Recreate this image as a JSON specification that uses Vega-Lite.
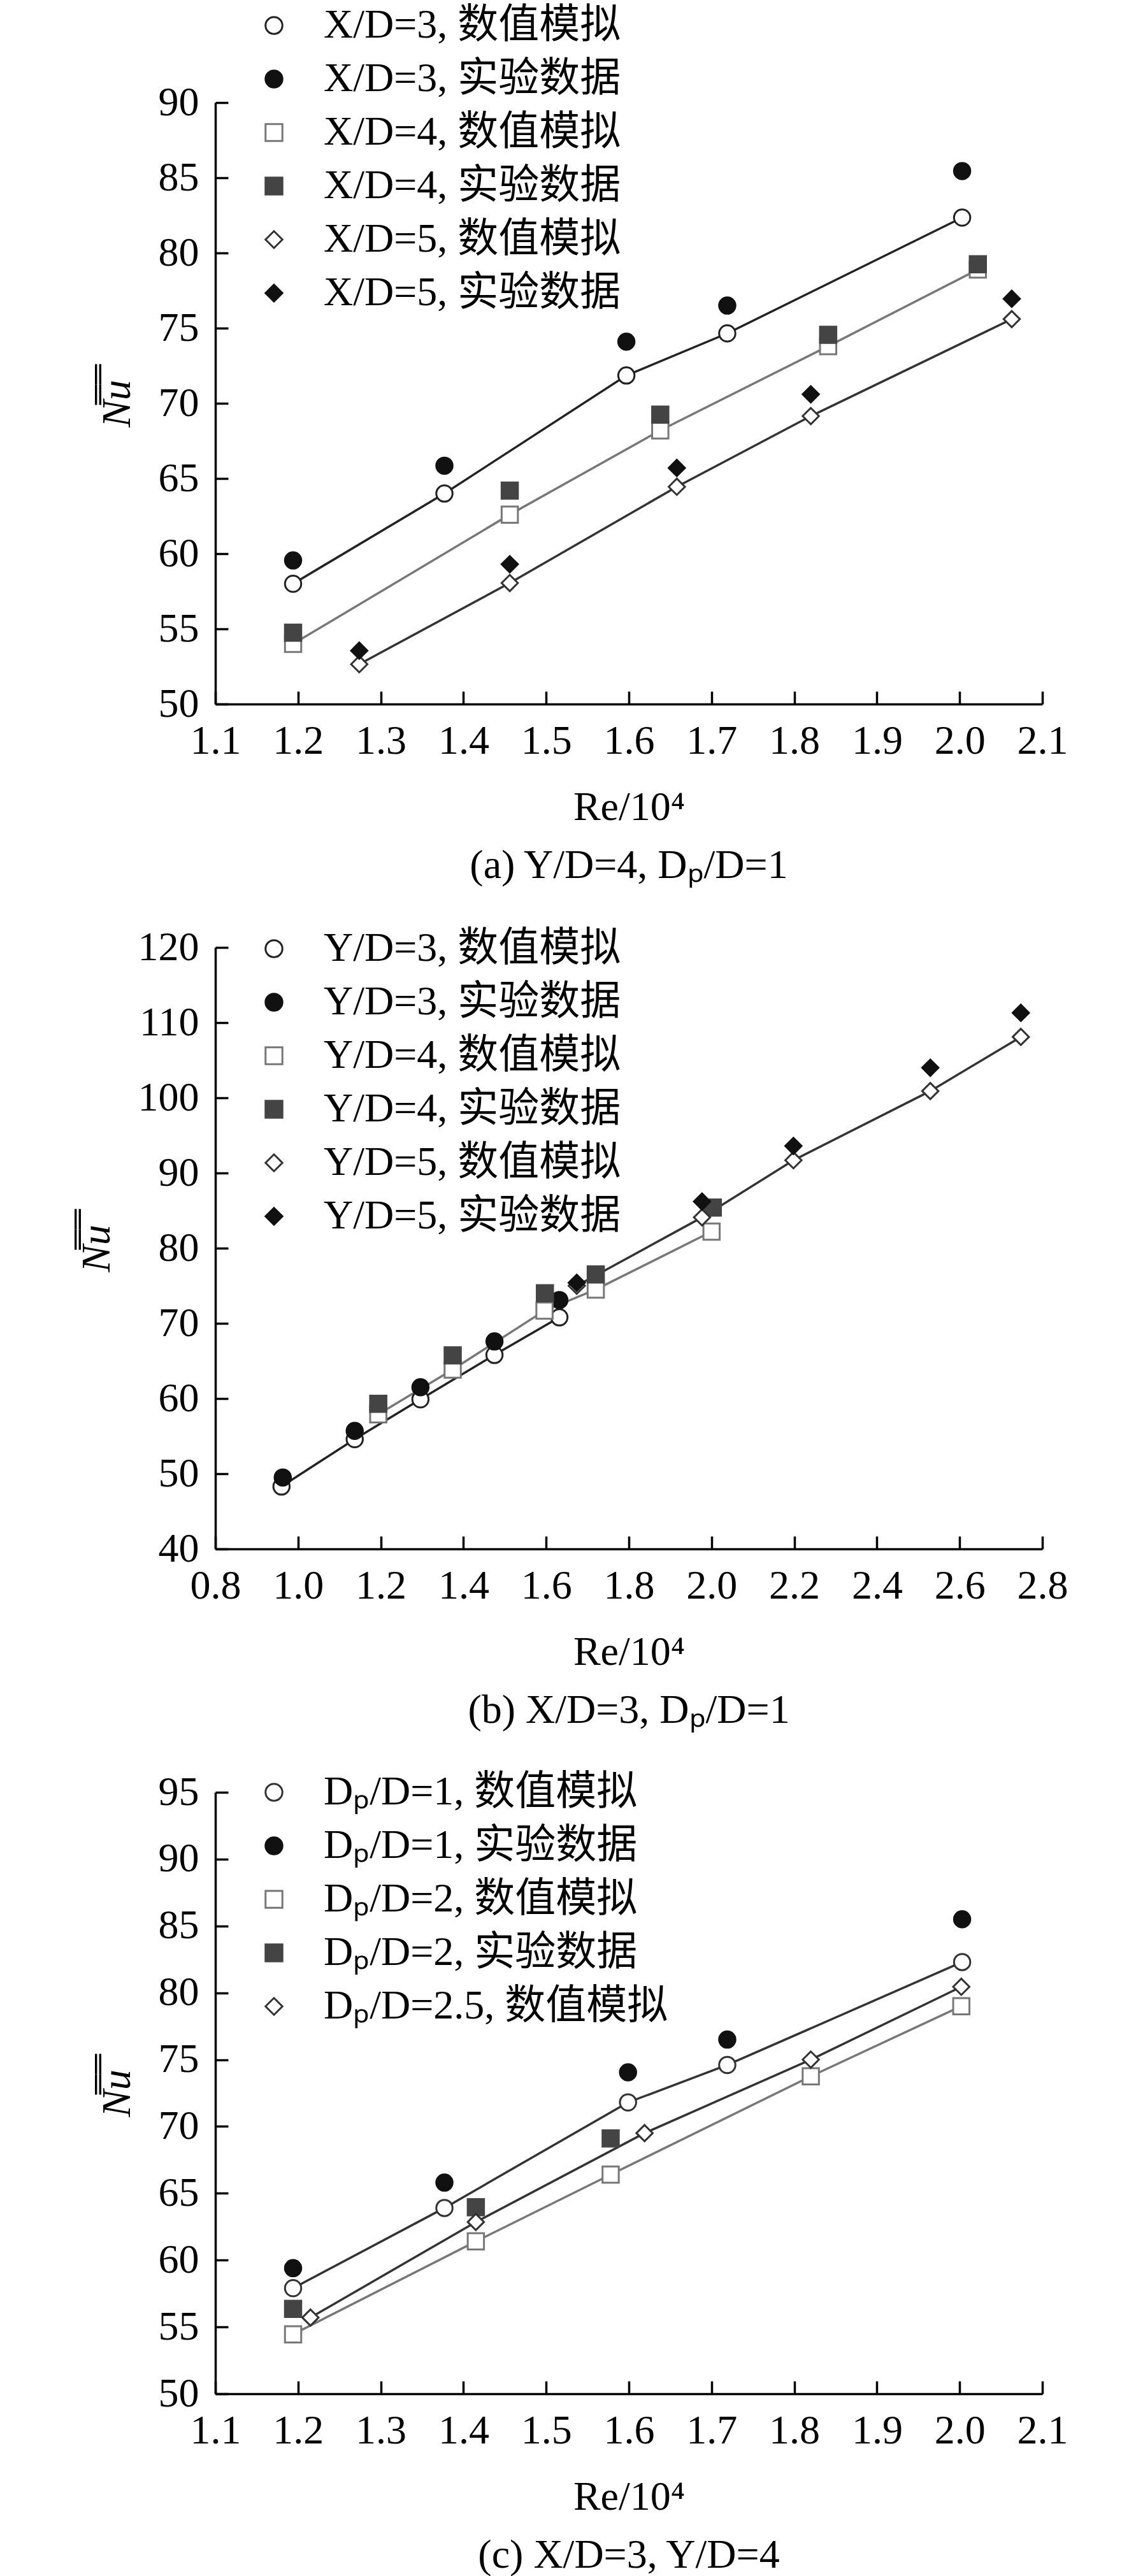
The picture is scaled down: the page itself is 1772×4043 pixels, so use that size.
{
  "$schema": "https://vega.github.io/schema/vega-lite/v6.json",
  "background": "white",
  "padding": {"left": 120, "top": 8, "right": 20, "bottom": 10},
  "spacing": 382,
  "bounds": "flush",
  "config": {
    "view": {"stroke": null},
    "font": "Liberation Serif",
    "axis": {
      "domainColor": "black", "domainWidth": 3.5, "tickColor": "black", "tickWidth": 3.5, "tickSize": -20,
      "labelFont": "Liberation Serif", "labelFontSize": 64, "labelColor": "black", "labelPadding": 46,
      "labelFlush": false, "labelOverlap": false, "grid": false,
      "titleFont": "Liberation Serif", "titleFontSize": 64, "titleFontWeight": "normal", "titleColor": "black"
    },
    "axisY": {"titleFontStyle": "italic", "titlePadding": 32},
    "axisX": {"titlePadding": 40},
    "title": {"font": "Liberation Serif, Noto Sans CJK SC", "fontSize": 64, "fontWeight": "normal", "color": "black", "orient": "bottom", "anchor": "middle", "offset": 28},
    "legend": {
      "orient": "none", "legendX": 60, "symbolSize": 700, "symbolStrokeWidth": 3, "symbolOpacity": 1,
      "labelFont": "Liberation Serif, Noto Sans CJK SC", "labelFontSize": 64, "labelColor": "black", "labelOffset": 46,
      "labelLimit": 1500, "rowPadding": 20
    }
  },
  "resolve": {
    "scale": {"x": "independent", "y": "independent", "shape": "independent", "fill": "independent", "stroke": "independent"},
    "legend": {"shape": "independent", "fill": "independent", "stroke": "independent"}
  },
  "vconcat": [
    {
      "width": 1298, "height": 944,
      "title": {"text": "(a) Y/D=4, Dₚ/D=1"},
      "data": {"values": [
        {"series": "X/D=3, 数值模拟", "kind": "sim", "re": 1.194, "nu": 58.0},
        {"series": "X/D=3, 数值模拟", "kind": "sim", "re": 1.377, "nu": 64.0},
        {"series": "X/D=3, 数值模拟", "kind": "sim", "re": 1.597, "nu": 71.85},
        {"series": "X/D=3, 数值模拟", "kind": "sim", "re": 1.719, "nu": 74.65},
        {"series": "X/D=3, 数值模拟", "kind": "sim", "re": 2.003, "nu": 82.35},
        {"series": "X/D=3, 实验数据", "kind": "exp", "re": 1.194, "nu": 59.55},
        {"series": "X/D=3, 实验数据", "kind": "exp", "re": 1.377, "nu": 65.85},
        {"series": "X/D=3, 实验数据", "kind": "exp", "re": 1.597, "nu": 74.1},
        {"series": "X/D=3, 实验数据", "kind": "exp", "re": 1.719, "nu": 76.5},
        {"series": "X/D=3, 实验数据", "kind": "exp", "re": 2.003, "nu": 85.45},
        {"series": "X/D=4, 数值模拟", "kind": "sim", "re": 1.194, "nu": 54.0},
        {"series": "X/D=4, 数值模拟", "kind": "sim", "re": 1.456, "nu": 62.6},
        {"series": "X/D=4, 数值模拟", "kind": "sim", "re": 1.638, "nu": 68.2},
        {"series": "X/D=4, 数值模拟", "kind": "sim", "re": 1.841, "nu": 73.8},
        {"series": "X/D=4, 数值模拟", "kind": "sim", "re": 2.022, "nu": 78.9},
        {"series": "X/D=4, 实验数据", "kind": "exp", "re": 1.194, "nu": 54.75},
        {"series": "X/D=4, 实验数据", "kind": "exp", "re": 1.456, "nu": 64.2},
        {"series": "X/D=4, 实验数据", "kind": "exp", "re": 1.638, "nu": 69.25},
        {"series": "X/D=4, 实验数据", "kind": "exp", "re": 1.841, "nu": 74.55},
        {"series": "X/D=4, 实验数据", "kind": "exp", "re": 2.022, "nu": 79.25},
        {"series": "X/D=5, 数值模拟", "kind": "sim", "re": 1.274, "nu": 52.65},
        {"series": "X/D=5, 数值模拟", "kind": "sim", "re": 1.456, "nu": 58.05},
        {"series": "X/D=5, 数值模拟", "kind": "sim", "re": 1.658, "nu": 64.45},
        {"series": "X/D=5, 数值模拟", "kind": "sim", "re": 1.82, "nu": 69.15},
        {"series": "X/D=5, 数值模拟", "kind": "sim", "re": 2.063, "nu": 75.6},
        {"series": "X/D=5, 实验数据", "kind": "exp", "re": 1.274, "nu": 53.55},
        {"series": "X/D=5, 实验数据", "kind": "exp", "re": 1.456, "nu": 59.3},
        {"series": "X/D=5, 实验数据", "kind": "exp", "re": 1.658, "nu": 65.7},
        {"series": "X/D=5, 实验数据", "kind": "exp", "re": 1.82, "nu": 70.6},
        {"series": "X/D=5, 实验数据", "kind": "exp", "re": 2.063, "nu": 76.95}
      ]},
      "encoding": {
        "x": {"field": "re", "type": "quantitative", "title": "Re/10⁴", "scale": {"domain": [1.1, 2.1], "nice": false, "zero": false}, "axis": {"values": [1.1, 1.2, 1.3, 1.4, 1.5, 1.6, 1.7, 1.8, 1.9, 2.0, 2.1], "format": ".1f"}},
        "y": {"field": "nu", "type": "quantitative", "title": "N̿u̿", "scale": {"domain": [50, 90], "nice": false, "zero": false}, "axis": {"values": [50, 55, 60, 65, 70, 75, 80, 85, 90]}}
      },
      "layer": [
        {
          "transform": [{"filter": "datum.kind === 'sim'"}],
          "mark": {"type": "line", "strokeWidth": 3.5},
          "encoding": {
            "stroke": {"field": "series", "type": "nominal", "scale": {"domain": ["X/D=3, 数值模拟", "X/D=3, 实验数据", "X/D=4, 数值模拟", "X/D=4, 实验数据", "X/D=5, 数值模拟", "X/D=5, 实验数据"], "range": ["#222222", "#111111", "#777777", "#444444", "#333333", "#111111"]}}
          }
        },
        {
          "mark": {"type": "point", "size": 650, "strokeWidth": 3, "opacity": 1},
          "encoding": {
            "stroke": {"field": "series", "type": "nominal", "scale": {"domain": ["X/D=3, 数值模拟", "X/D=3, 实验数据", "X/D=4, 数值模拟", "X/D=4, 实验数据", "X/D=5, 数值模拟", "X/D=5, 实验数据"], "range": ["#222222", "#111111", "#777777", "#444444", "#333333", "#111111"]}},
            "fill": {"field": "series", "type": "nominal", "scale": {"domain": ["X/D=3, 数值模拟", "X/D=3, 实验数据", "X/D=4, 数值模拟", "X/D=4, 实验数据", "X/D=5, 数值模拟", "X/D=5, 实验数据"], "range": ["white", "#111111", "white", "#444444", "white", "#111111"]}},
            "shape": {"field": "series", "type": "nominal", "scale": {"domain": ["X/D=3, 数值模拟", "X/D=3, 实验数据", "X/D=4, 数值模拟", "X/D=4, 实验数据", "X/D=5, 数值模拟", "X/D=5, 实验数据"], "range": ["circle", "circle", "square", "square", "diamond", "diamond"]},
              "legend": {"title": null, "legendY": -153}}
          }
        }
      ]
    },
    {
      "width": 1298, "height": 944,
      "title": {"text": "(b) X/D=3, Dₚ/D=1"},
      "data": {"values": [
        {"series": "Y/D=3, 数值模拟", "kind": "sim", "re": 0.96, "nu": 48.3},
        {"series": "Y/D=3, 数值模拟", "kind": "sim", "re": 1.137, "nu": 54.6},
        {"series": "Y/D=3, 数值模拟", "kind": "sim", "re": 1.296, "nu": 59.9},
        {"series": "Y/D=3, 数值模拟", "kind": "sim", "re": 1.475, "nu": 65.8},
        {"series": "Y/D=3, 数值模拟", "kind": "sim", "re": 1.632, "nu": 70.8},
        {"series": "Y/D=3, 实验数据", "kind": "exp", "re": 0.963, "nu": 49.5},
        {"series": "Y/D=3, 实验数据", "kind": "exp", "re": 1.137, "nu": 55.7},
        {"series": "Y/D=3, 实验数据", "kind": "exp", "re": 1.296, "nu": 61.5},
        {"series": "Y/D=3, 实验数据", "kind": "exp", "re": 1.475, "nu": 67.6},
        {"series": "Y/D=3, 实验数据", "kind": "exp", "re": 1.632, "nu": 73.1},
        {"series": "Y/D=4, 数值模拟", "kind": "sim", "re": 1.194, "nu": 57.9},
        {"series": "Y/D=4, 数值模拟", "kind": "sim", "re": 1.374, "nu": 63.85},
        {"series": "Y/D=4, 数值模拟", "kind": "sim", "re": 1.596, "nu": 71.7},
        {"series": "Y/D=4, 数值模拟", "kind": "sim", "re": 1.72, "nu": 74.5},
        {"series": "Y/D=4, 数值模拟", "kind": "sim", "re": 2.0, "nu": 82.2},
        {"series": "Y/D=4, 实验数据", "kind": "exp", "re": 1.194, "nu": 59.3},
        {"series": "Y/D=4, 实验数据", "kind": "exp", "re": 1.374, "nu": 65.75},
        {"series": "Y/D=4, 实验数据", "kind": "exp", "re": 1.597, "nu": 74.0},
        {"series": "Y/D=4, 实验数据", "kind": "exp", "re": 1.72, "nu": 76.5},
        {"series": "Y/D=4, 实验数据", "kind": "exp", "re": 2.003, "nu": 85.4},
        {"series": "Y/D=5, 数值模拟", "kind": "sim", "re": 1.674, "nu": 75.0},
        {"series": "Y/D=5, 数值模拟", "kind": "sim", "re": 1.977, "nu": 84.1},
        {"series": "Y/D=5, 数值模拟", "kind": "sim", "re": 2.198, "nu": 91.7},
        {"series": "Y/D=5, 数值模拟", "kind": "sim", "re": 2.529, "nu": 100.9},
        {"series": "Y/D=5, 数值模拟", "kind": "sim", "re": 2.748, "nu": 108.1},
        {"series": "Y/D=5, 实验数据", "kind": "exp", "re": 1.674, "nu": 75.4},
        {"series": "Y/D=5, 实验数据", "kind": "exp", "re": 1.977, "nu": 86.2},
        {"series": "Y/D=5, 实验数据", "kind": "exp", "re": 2.198, "nu": 93.6},
        {"series": "Y/D=5, 实验数据", "kind": "exp", "re": 2.529, "nu": 104.0},
        {"series": "Y/D=5, 实验数据", "kind": "exp", "re": 2.748, "nu": 111.3}
      ]},
      "encoding": {
        "x": {"field": "re", "type": "quantitative", "title": "Re/10⁴", "scale": {"domain": [0.8, 2.8], "nice": false, "zero": false}, "axis": {"values": [0.8, 1.0, 1.2, 1.4, 1.6, 1.8, 2.0, 2.2, 2.4, 2.6, 2.8], "format": ".1f"}},
        "y": {"field": "nu", "type": "quantitative", "title": "N̿u̿", "scale": {"domain": [40, 120], "nice": false, "zero": false}, "axis": {"values": [40, 50, 60, 70, 80, 90, 100, 110, 120]}}
      },
      "layer": [
        {
          "transform": [{"filter": "datum.kind === 'sim'"}],
          "mark": {"type": "line", "strokeWidth": 3.5},
          "encoding": {
            "stroke": {"field": "series", "type": "nominal", "scale": {"domain": ["Y/D=3, 数值模拟", "Y/D=3, 实验数据", "Y/D=4, 数值模拟", "Y/D=4, 实验数据", "Y/D=5, 数值模拟", "Y/D=5, 实验数据"], "range": ["#222222", "#111111", "#777777", "#444444", "#333333", "#111111"]}}
          }
        },
        {
          "mark": {"type": "point", "size": 650, "strokeWidth": 3, "opacity": 1},
          "encoding": {
            "stroke": {"field": "series", "type": "nominal", "scale": {"domain": ["Y/D=3, 数值模拟", "Y/D=3, 实验数据", "Y/D=4, 数值模拟", "Y/D=4, 实验数据", "Y/D=5, 数值模拟", "Y/D=5, 实验数据"], "range": ["#222222", "#111111", "#777777", "#444444", "#333333", "#111111"]}},
            "fill": {"field": "series", "type": "nominal", "scale": {"domain": ["Y/D=3, 数值模拟", "Y/D=3, 实验数据", "Y/D=4, 数值模拟", "Y/D=4, 实验数据", "Y/D=5, 数值模拟", "Y/D=5, 实验数据"], "range": ["white", "#111111", "white", "#444444", "white", "#111111"]}},
            "shape": {"field": "series", "type": "nominal", "scale": {"domain": ["Y/D=3, 数值模拟", "Y/D=3, 实验数据", "Y/D=4, 数值模拟", "Y/D=4, 实验数据", "Y/D=5, 数值模拟", "Y/D=5, 实验数据"], "range": ["circle", "circle", "square", "square", "diamond", "diamond"]},
              "legend": {"title": null, "legendY": -30}}
          }
        }
      ]
    },
    {
      "width": 1298, "height": 944,
      "title": {"text": "(c) X/D=3, Y/D=4"},
      "data": {"values": [
        {"series": "Dₚ/D=1, 数值模拟", "kind": "sim", "re": 1.194, "nu": 57.9},
        {"series": "Dₚ/D=1, 数值模拟", "kind": "sim", "re": 1.377, "nu": 63.9},
        {"series": "Dₚ/D=1, 数值模拟", "kind": "sim", "re": 1.599, "nu": 71.8},
        {"series": "Dₚ/D=1, 数值模拟", "kind": "sim", "re": 1.719, "nu": 74.6},
        {"series": "Dₚ/D=1, 数值模拟", "kind": "sim", "re": 2.003, "nu": 82.3},
        {"series": "Dₚ/D=1, 实验数据", "kind": "exp", "re": 1.194, "nu": 59.4},
        {"series": "Dₚ/D=1, 实验数据", "kind": "exp", "re": 1.377, "nu": 65.8},
        {"series": "Dₚ/D=1, 实验数据", "kind": "exp", "re": 1.599, "nu": 74.05},
        {"series": "Dₚ/D=1, 实验数据", "kind": "exp", "re": 1.719, "nu": 76.5},
        {"series": "Dₚ/D=1, 实验数据", "kind": "exp", "re": 2.003, "nu": 85.5},
        {"series": "Dₚ/D=2, 数值模拟", "kind": "sim", "re": 1.194, "nu": 54.45},
        {"series": "Dₚ/D=2, 数值模拟", "kind": "sim", "re": 1.415, "nu": 61.4},
        {"series": "Dₚ/D=2, 数值模拟", "kind": "sim", "re": 1.578, "nu": 66.4},
        {"series": "Dₚ/D=2, 数值模拟", "kind": "sim", "re": 1.82, "nu": 73.75},
        {"series": "Dₚ/D=2, 数值模拟", "kind": "sim", "re": 2.002, "nu": 79.0},
        {"series": "Dₚ/D=2, 实验数据", "kind": "exp", "re": 1.194, "nu": 56.35},
        {"series": "Dₚ/D=2, 实验数据", "kind": "exp", "re": 1.415, "nu": 63.95},
        {"series": "Dₚ/D=2, 实验数据", "kind": "exp", "re": 1.578, "nu": 69.1},
        {"series": "Dₚ/D=2.5, 数值模拟", "kind": "sim", "re": 1.215, "nu": 55.7},
        {"series": "Dₚ/D=2.5, 数值模拟", "kind": "sim", "re": 1.415, "nu": 62.85},
        {"series": "Dₚ/D=2.5, 数值模拟", "kind": "sim", "re": 1.619, "nu": 69.5},
        {"series": "Dₚ/D=2.5, 数值模拟", "kind": "sim", "re": 1.82, "nu": 75.0},
        {"series": "Dₚ/D=2.5, 数值模拟", "kind": "sim", "re": 2.002, "nu": 80.45}
      ]},
      "encoding": {
        "x": {"field": "re", "type": "quantitative", "title": "Re/10⁴", "scale": {"domain": [1.1, 2.1], "nice": false, "zero": false}, "axis": {"values": [1.1, 1.2, 1.3, 1.4, 1.5, 1.6, 1.7, 1.8, 1.9, 2.0, 2.1], "format": ".1f"}},
        "y": {"field": "nu", "type": "quantitative", "title": "N̿u̿", "scale": {"domain": [50, 95], "nice": false, "zero": false}, "axis": {"values": [50, 55, 60, 65, 70, 75, 80, 85, 90, 95]}}
      },
      "layer": [
        {
          "transform": [{"filter": "datum.kind === 'sim'"}],
          "mark": {"type": "line", "strokeWidth": 3.5},
          "encoding": {
            "stroke": {"field": "series", "type": "nominal", "scale": {"domain": ["Dₚ/D=1, 数值模拟", "Dₚ/D=1, 实验数据", "Dₚ/D=2, 数值模拟", "Dₚ/D=2, 实验数据", "Dₚ/D=2.5, 数值模拟"], "range": ["#333333", "#111111", "#777777", "#444444", "#333333"]}}
          }
        },
        {
          "mark": {"type": "point", "size": 650, "strokeWidth": 3, "opacity": 1},
          "encoding": {
            "stroke": {"field": "series", "type": "nominal", "scale": {"domain": ["Dₚ/D=1, 数值模拟", "Dₚ/D=1, 实验数据", "Dₚ/D=2, 数值模拟", "Dₚ/D=2, 实验数据", "Dₚ/D=2.5, 数值模拟"], "range": ["#333333", "#111111", "#777777", "#444444", "#333333"]}},
            "fill": {"field": "series", "type": "nominal", "scale": {"domain": ["Dₚ/D=1, 数值模拟", "Dₚ/D=1, 实验数据", "Dₚ/D=2, 数值模拟", "Dₚ/D=2, 实验数据", "Dₚ/D=2.5, 数值模拟"], "range": ["white", "#111111", "white", "#444444", "white"]}},
            "shape": {"field": "series", "type": "nominal", "scale": {"domain": ["Dₚ/D=1, 数值模拟", "Dₚ/D=1, 实验数据", "Dₚ/D=2, 数值模拟", "Dₚ/D=2, 实验数据", "Dₚ/D=2.5, 数值模拟"], "range": ["circle", "circle", "square", "square", "diamond"]},
              "legend": {"title": null, "legendY": -32}}
          }
        }
      ]
    }
  ]
}
